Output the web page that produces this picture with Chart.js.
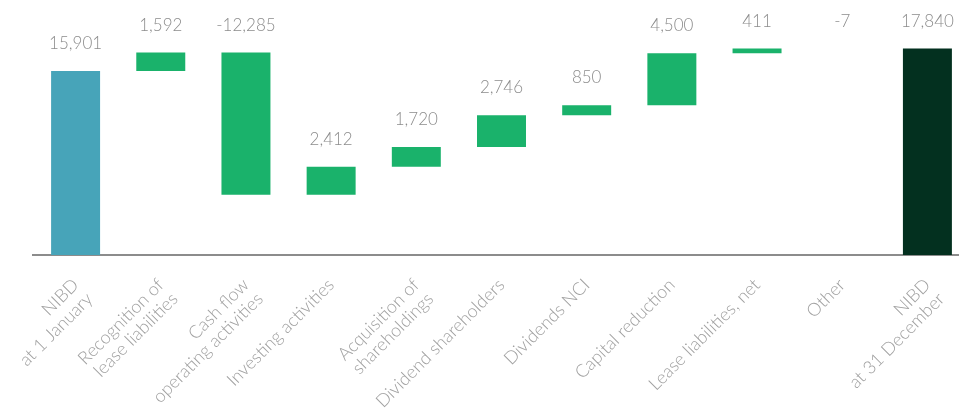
<!DOCTYPE html>
<html>
<head>
<meta charset="utf-8">
<script src="https://cdn.jsdelivr.net/npm/chart.js@4"></script>
<style>
  html, body { margin: 0; padding: 0; background: #fff; overflow: hidden; }
  #wrap { width: 972px; height: 412px; }
</style>
</head>
<body>
<div id="wrap"><canvas id="myChart" width="972" height="412"></canvas></div>
<script>
// NIBD bridge, DKKm
var labels = [
    ['NIBD', 'at 1 January'],
    ['Recognition of', 'lease liabilities'],
    ['Cash flow', 'operating activities'],
    'Investing activities',
    ['Acquisition of', 'shareholdings'],
    'Dividend shareholders',
    'Dividends NCI',
    'Capital reduction',
    'Lease liabilities, net',
    'Other',
    ['NIBD', 'at 31 December']
];
var openingBalance = 15901;
var movements = [1592, -12285, 2412, 1720, 2746, 850, 4500, 411, -7];
var closingBalance = 17840;

// build floating bars for the waterfall
var bars = [[0, openingBalance]];
var shown = [openingBalance];
var running = openingBalance;
movements.forEach(function (m) {
    bars.push([running, running + m]);
    shown.push(m);
    running += m;
});
bars.push([0, closingBalance]);
shown.push(closingBalance);

var colors = labels.map(function (l, i) {
    if (i === 0) return '#47a4b9';
    if (i === labels.length - 1) return '#03301f';
    return '#1ab26b';
});

var valueLabels = {
    id: 'valueLabels',
    afterDatasetsDraw: function (chart) {
        var ctx = chart.ctx;
        var meta = chart.getDatasetMeta(0);
        ctx.save();
        ctx.font = '300 17px Lato, "Open Sans", sans-serif';
        ctx.fillStyle = '#8c8c8c';
        ctx.textAlign = 'center';
        ctx.textBaseline = 'alphabetic';
        meta.data.forEach(function (bar, i) {
            var top = Math.min(bar.y, bar.base);
            ctx.fillText(shown[i].toLocaleString('en-US'), bar.x, top - 22);
        });
        ctx.restore();
    }
};

var ctx = document.getElementById('myChart').getContext('2d');
var chart = new Chart(ctx, {
    type: 'bar',
    data: {
        labels: labels,
        datasets: [{
            data: bars,
            backgroundColor: colors,
            borderWidth: 0,
            borderSkipped: false,
            barPercentage: 1,
            categoryPercentage: 0.575
        }]
    },
    options: {
        responsive: false,
        animation: false,
        layout: { padding: { left: 33, right: 2, top: 0, bottom: 0 } },
        plugins: {
            legend: { display: false },
            tooltip: { enabled: false }
        },
        scales: {
            x: {
                grid: { display: false },
                border: { display: true, color: '#8c8c8c', width: 2 },
                ticks: {
                    color: '#a0a0a0',
                    font: { family: 'Lato, "Open Sans", sans-serif', size: 18, weight: '300', lineHeight: 1.1 },
                    minRotation: 45,
                    maxRotation: 45,
                    autoSkip: false,
                    padding: 12
                },
                afterFit: function (scale) {
                    scale.height = 157;
                    scale.paddingLeft = 0;
                    scale.paddingRight = 0;
                }
            },
            y: {
                display: false,
                min: 0,
                max: 22040
            }
        }
    },
    plugins: [valueLabels]
});
</script>
</body>
</html>
